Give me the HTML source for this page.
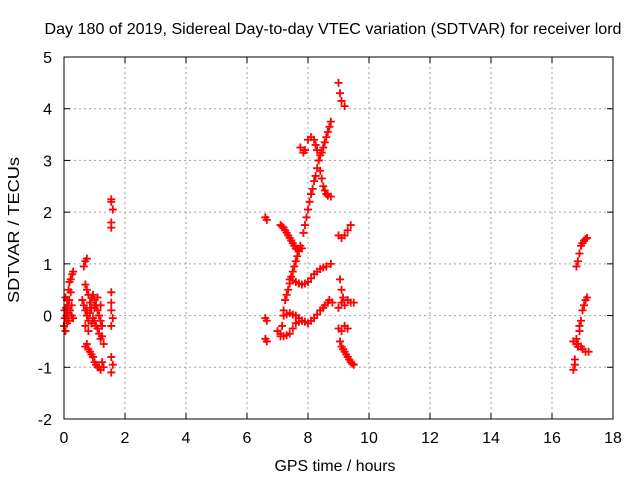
<!DOCTYPE html>
<html><head><meta charset="utf-8"><style>
body{margin:0;background:#fff}
text{font-family:"Liberation Sans",sans-serif;font-size:16px;fill:#000}
</style></head><body>
<svg id="chart" width="640" height="480" xmlns="http://www.w3.org/2000/svg">
<rect width="640" height="480" fill="#fff"/>
<text x="333" y="34" text-anchor="middle" textLength="577" lengthAdjust="spacingAndGlyphs">Day 180 of 2019, Sidereal Day-to-day VTEC variation (SDTVAR) for receiver lord</text>
<text x="335" y="471" text-anchor="middle" textLength="121" lengthAdjust="spacingAndGlyphs">GPS time / hours</text>
<text transform="translate(19,230) rotate(-90)" text-anchor="middle" textLength="146" lengthAdjust="spacingAndGlyphs">SDTVAR / TECUs</text>
<g id="grid"></g><g id="ticks"></g><g id="pts"></g>
<rect x="64" y="57" width="549" height="362" fill="none" stroke="#000" stroke-width="1"/>
</svg>
<script>
const xTicks=[0,2,4,6,8,10,12,14,16,18];
const yTicks=[-2,-1,0,1,2,3,4,5];
const xs=[0,0.02,0.05,0.08,0.1,0.12,0.15,0.18,0.22,0.27,0.3,0.2,0.25,0.3,0.15,0.05,0.1,0.25,0.03,0.07,0.12,0.17,0.22,
0.65,0.7,0.75,0.7,0.75,0.8,0.6,0.65,0.7,0.75,0.8,0.85,0.9,0.95,1.0,1.05,1.1,1.15,1.2,1.25,0.7,0.8,0.9,1.0,1.1,1.2,0.85,0.95,1.05,1.15,1.25,0.75,0.9,1.0,1.1,1.2,1.3,
0.7,0.8,0.9,1.0,1.1,1.2,1.3,0.75,0.85,0.95,1.05,1.15,1.25,
1.55,1.55,1.6,1.55,1.55,1.55,1.55,1.55,1.6,1.55,1.55,1.6,1.55,
6.6,6.65,6.6,6.65,6.6,6.65,
7.1,7.2,7.3,7.4,7.5,7.6,7.7,7.8,7.15,7.25,7.35,7.45,7.55,7.65,
7.1,7.15,7.2,7.25,7.35,7.45,7.55,7.65,7.75,7.85,7.95,8.05,8.15,8.25,8.35,8.45,8.55,8.65,8.75,7.3,7.4,7.5,7.6,7.7,7.9,8.0,8.1,8.2,8.3,8.4,8.5,8.6,8.7,
7.75,7.85,7.9,8.0,8.1,8.2,8.3,8.4,8.5,8.6,8.75,8.25,8.35,8.45,8.55,8.65,
9.0,9.05,9.1,9.2,
9.0,9.1,9.2,9.3,9.4,
7.4,7.6,7.8,8.0,8.2,8.4,8.6,8.75,7.5,7.7,7.9,8.1,8.3,8.5,
7.0,7.2,7.4,7.6,7.8,8.0,8.2,8.4,8.55,8.7,8.8,7.1,7.3,7.5,7.7,7.9,8.1,8.3,8.5,8.65,
7.2,7.4,7.6,7.8,7.3,7.5,7.7,
9.05,9.1,9.15,9.0,9.1,9.3,9.4,9.5,9.2,
9.0,9.1,9.2,9.3,9.05,9.1,9.2,9.3,9.4,9.5,9.15,9.25,9.35,9.45,
16.8,16.85,16.9,16.95,17.05,17.15,17.0,17.1,
16.7,16.8,16.85,16.75,16.7,16.9,16.95,17.0,17.05,17.1,17.15,17.0,17.1,17.2,16.75,16.8,16.85,16.9,16.95];
const ys=[-0.2,0.1,0.35,0,-0.15,0.2,0.5,0.65,0.7,0.8,0.85,0.1,0,-0.05,-0.1,-0.3,0.3,0.2,-0.05,0.15,0.05,0.3,0.45,
0.95,1.05,1.1,0.6,0.5,0.4,0.3,0.2,0.1,0.0,-0.1,0.25,0.35,0.4,0.3,0.2,0.1,0.0,-0.1,-0.2,-0.2,-0.3,-0.15,0.15,0.35,0.2,0.05,-0.05,-0.2,-0.35,-0.4,0.1,0.15,-0.1,-0.25,-0.45,-0.55,
-0.6,-0.65,-0.75,-0.9,-1.0,-1.05,-1.0,-0.55,-0.7,-0.8,-0.95,-1.0,-0.9,
2.25,2.2,2.05,1.8,1.7,0.45,0.25,0.1,-0.05,-0.2,-0.8,-0.95,-1.1,
1.9,1.85,-0.05,-0.1,-0.45,-0.5,
1.75,1.7,1.6,1.5,1.4,1.3,1.25,1.3,1.72,1.65,1.55,1.45,1.35,1.28,
-0.4,-0.2,0.1,0.3,0.5,0.75,0.95,1.15,1.35,1.6,1.9,2.2,2.45,2.7,3.0,3.15,3.35,3.55,3.75,0.4,0.62,0.85,1.05,1.25,1.75,2.05,2.35,2.6,2.85,3.1,3.25,3.45,3.65,
3.25,3.15,3.2,3.4,3.45,3.4,3.2,2.8,2.5,2.35,2.3,3.3,3.0,2.65,2.42,2.32,
4.5,4.3,4.15,4.05,
1.55,1.5,1.55,1.65,1.75,
0.7,0.65,0.6,0.65,0.8,0.9,0.95,1.0,0.68,0.62,0.62,0.72,0.85,0.93,
-0.3,-0.4,-0.35,-0.15,-0.1,-0.15,-0.05,0.1,0.2,0.3,0.25,-0.35,-0.38,-0.25,-0.12,-0.12,-0.1,0.02,0.15,0.25,
0,0.05,0,-0.1,0.02,0.02,-0.05,
0.7,0.5,0.35,0.15,0.25,0.3,0.25,0.25,0.2,
-0.25,-0.3,-0.2,-0.25,-0.5,-0.6,-0.7,-0.8,-0.9,-0.95,-0.65,-0.75,-0.85,-0.93,
0.95,1.05,1.2,1.35,1.45,1.5,1.4,1.48,
-0.5,-0.55,-0.6,-0.85,-1.05,-0.3,-0.1,0.1,0.2,0.3,0.35,-0.65,-0.7,-0.7,-0.95,-0.45,-0.55,-0.2,-0.6];
const X=h=>64+h*549/18, Y=v=>419-(v+2)*362/7;
const NS="http://www.w3.org/2000/svg";
const g=document.getElementById('grid'),t=document.getElementById('ticks'),p=document.getElementById('pts');
function mk(tag,attrs,parent){const e=document.createElementNS(NS,tag);for(const k in attrs)e.setAttribute(k,attrs[k]);parent.appendChild(e);return e;}
xTicks.forEach(v=>{const x=X(v);
 if(v>0&&v<18){const l=mk('line',{x1:x,y1:57,x2:x,y2:419,stroke:'#a0a0a0','stroke-dasharray':'2,3'},g);}
 mk('line',{x1:x,y1:419,x2:x,y2:413,stroke:'#000'},t);mk('line',{x1:x,y1:57,x2:x,y2:63,stroke:'#000'},t);
 const tx=mk('text',{x:x,y:443,'text-anchor':'middle'},t);tx.textContent=v;
 
 });
yTicks.forEach(v=>{const y=Y(v);
 if(v>-2&&v<5){const l=mk('line',{x1:64,y1:y,x2:613,y2:y,stroke:'#a0a0a0','stroke-dasharray':'2,3'},g);}
 mk('line',{x1:64,y1:y,x2:70,y2:y,stroke:'#000'},t);mk('line',{x1:613,y1:y,x2:607,y2:y,stroke:'#000'},t);
 const tx=mk('text',{x:52,y:y+6,'text-anchor':'end'},t);tx.textContent=v;
 
 });
xs.forEach((h,i)=>{const x=X(h),y=Y(ys[i]);
 const m=mk('path',{d:`M${x-4},${y}H${x+4}M${x},${y-4}V${y+4}`,stroke:'#f00','stroke-width':1.8,fill:'none'},p);
 
 });
</script>
</body></html>
